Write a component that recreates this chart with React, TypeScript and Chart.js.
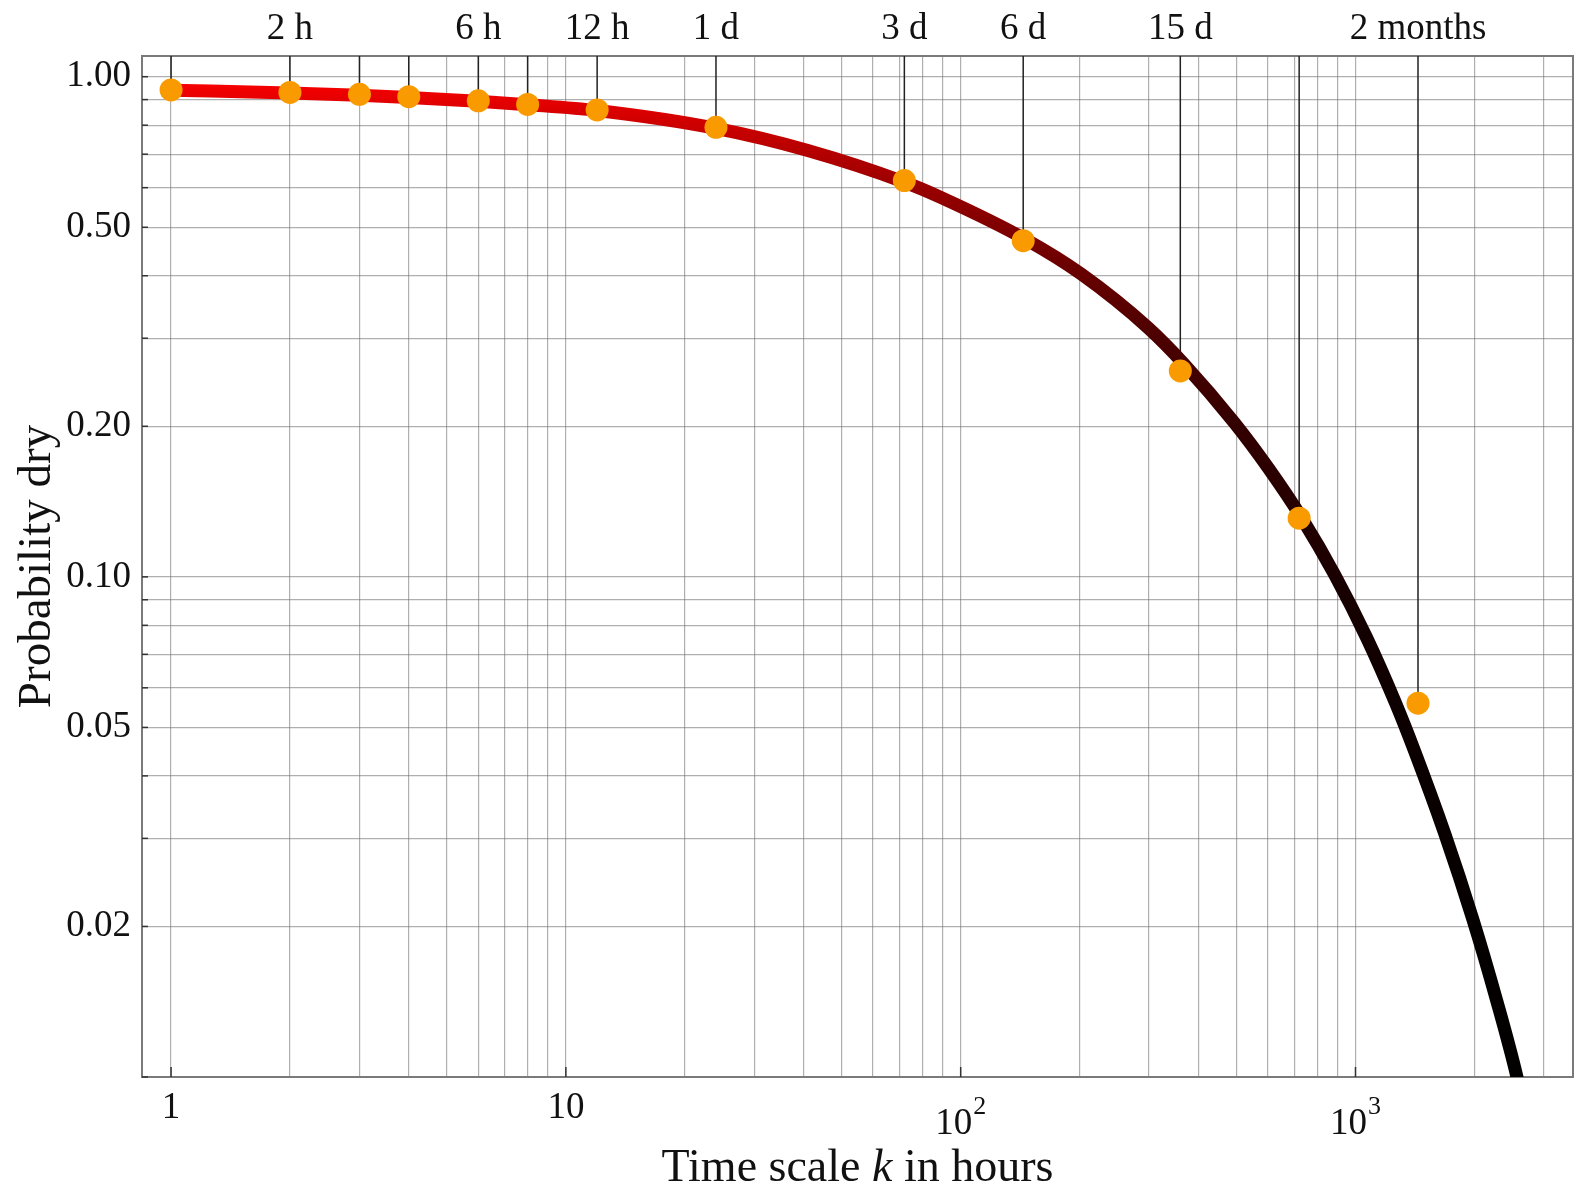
import React, { useEffect, useRef } from 'react';
import { Chart, registerables } from 'chart.js';

Chart.register(...registerables);

// ---- data ----
const curveK = [1, 2, 3, 4, 6, 8, 12, 24, 41, 72, 89, 146, 202, 298, 369, 494, 602, 730, 885, 1067, 1264, 1412, 1683, 1982, 2279, 2563, 2640];
const curveP = [0.9393, 0.9282, 0.918, 0.9088, 0.893, 0.8791, 0.8556, 0.788, 0.7118, 0.6154, 0.5737, 0.4729, 0.4031, 0.315, 0.2657, 0.203, 0.1648, 0.1313, 0.1011, 0.0756, 0.05588, 0.04481, 0.03066, 0.02069, 0.01421, 0.01002, 0.00898];

const pointsK = [1, 2, 3, 4, 6, 8, 12, 24, 72, 144, 360, 720, 1440];
const pointsP = [0.941, 0.930, 0.922, 0.912, 0.895, 0.880, 0.858, 0.792, 0.620, 0.470, 0.258, 0.131, 0.0559];

const topTickK = [2, 6, 12, 24, 72, 144, 360, 1440];
const topTickLabels = ['2 h', '6 h', '12 h', '1 d', '3 d', '6 d', '15 d', '2 months'];

const xTickK = [1, 10, 100, 1000];
const xTickLabels = ['1', '10', '10', '10'];
const xTickExponents = ['', '', '2', '3'];

const yTickP = [1, 0.5, 0.2, 0.1, 0.05, 0.02];
const yTickLabels = ['1.00', '0.50', '0.20', '0.10', '0.05', '0.02'];

const xGridK = [1, 2, 3, 4, 5, 6, 7, 8, 9, 10, 20, 30, 40, 50, 60, 70, 80, 90, 100, 200, 300, 400, 500, 600, 700, 800, 900, 1000, 2000, 3000];
const yGridP = [0.01, 0.02, 0.03, 0.04, 0.05, 0.06, 0.07, 0.08, 0.09, 0.1, 0.2, 0.3, 0.4, 0.5, 0.6, 0.7, 0.8, 0.9, 1.0];

const X_MIN = 0.844;
const X_MAX = 3556;
const Y_MIN = 0.01;
const Y_MAX = 1.1;

const xTitleParts = ['Time scale ', 'k', ' in hours'];
const yTitle = 'Probability dry';

const FONT = '"Liberation Serif", "Times New Roman", serif';
const FRAME = '#7a7a7a';
const GRID = 'rgba(110,110,110,0.55)';

function findIndex(values: number[], v: number): number {
  for (let i = 0; i < values.length; i++) {
    if (Math.abs(values[i] - v) / values[i] < 1e-6) return i;
  }
  return -1;
}

const decorPlugin = {
  id: 'decor',
  afterDraw(chart: any) {
    const { ctx, chartArea: a, scales } = chart;
    ctx.save();
    ctx.strokeStyle = '#333';
    ctx.lineWidth = 1.5;
    yGridP.forEach((v) => {
      const py = scales.y.getPixelForValue(v);
      if (py < a.top - 0.5 || py > a.bottom + 0.5) return;
      ctx.beginPath();
      ctx.moveTo(a.left, py);
      ctx.lineTo(a.left + 6, py);
      ctx.stroke();
    });
    xTickK.forEach((v) => {
      const px = scales.x.getPixelForValue(v);
      ctx.beginPath();
      ctx.moveTo(px, a.bottom);
      ctx.lineTo(px, a.bottom - 10);
      ctx.stroke();
    });
    // power-of-ten tick labels with real superscripts
    ctx.fillStyle = '#111';
    ctx.textBaseline = 'alphabetic';
    ctx.textAlign = 'left';
    xTickK.forEach((v, i) => {
      if (!xTickExponents[i]) return;
      const px = scales.x.getPixelForValue(v);
      ctx.font = `37px ${FONT}`;
      const wb = ctx.measureText(xTickLabels[i]).width;
      ctx.font = `26px ${FONT}`;
      const we = ctx.measureText(xTickExponents[i]).width;
      const x0 = px - (wb + we + 1) / 2;
      ctx.font = `37px ${FONT}`;
      ctx.fillText(xTickLabels[i], x0, 1134);
      ctx.font = `26px ${FONT}`;
      ctx.fillText(xTickExponents[i], x0 + wb + 1, 1114);
    });
    // x-axis title with italic k
    const fonts = [`46px ${FONT}`, `italic 46px ${FONT}`, `46px ${FONT}`];
    let total = 0;
    const widths = xTitleParts.map((t, i) => {
      ctx.font = fonts[i];
      const w = ctx.measureText(t).width;
      total += w;
      return w;
    });
    let x = (a.left + a.right) / 2 - total / 2;
    ctx.fillStyle = '#111';
    xTitleParts.forEach((t, i) => {
      ctx.font = fonts[i];
      ctx.fillText(t, x, 1181);
      x += widths[i];
    });
    ctx.restore();
  },
};

export default function App() {
  const ref = useRef<HTMLCanvasElement | null>(null);

  useEffect(() => {
    if (!ref.current) return;

    const curveData = curveK.map((k, i) => ({ x: k, y: curveP[i] }));
    const dotData = pointsK.map((k, i) => ({ x: k, y: pointsP[i] }));
    const stemData: any[] = [];
    pointsK.forEach((k, i) => {
      stemData.push({ x: k, y: Y_MAX });
      stemData.push({ x: k, y: pointsP[i] });
      stemData.push({ x: k, y: null });
    });

    const gradient = (c: any) => {
      const chart = c.chart;
      const area = chart.chartArea;
      if (!area || !chart.scales.y) return '#c00000';
      const ys = chart.scales.y;
      const g = chart.ctx.createLinearGradient(0, area.top, 0, area.bottom);
      const stops = [Y_MAX, ...yGridP.slice().reverse()];
      stops.forEach((v) => {
        let t = (ys.getPixelForValue(v) - area.top) / (area.bottom - area.top);
        t = Math.max(0, Math.min(1, t));
        const r = Math.round(255 * Math.min(1, v));
        g.addColorStop(t, `rgb(${r},0,0)`);
      });
      return g;
    };

    const zeroPad = (s: any) => {
      s.paddingLeft = 0;
      s.paddingRight = 0;
      s.paddingTop = 0;
      s.paddingBottom = 0;
    };

    const chart = new Chart(ref.current, {
      type: 'line',
      data: {
        datasets: [
          {
            label: 'stems',
            data: stemData,
            borderColor: '#222',
            borderWidth: 1.5,
            pointRadius: 0,
            spanGaps: false,
            order: 2,
          },
          {
            label: 'curve',
            data: curveData,
            borderColor: gradient,
            borderWidth: 13,
            pointRadius: 0,
            cubicInterpolationMode: 'monotone',
            borderCapStyle: 'butt',
            borderJoinStyle: 'round',
            clip: 0,
            order: 1,
          },
          {
            label: 'points',
            data: dotData,
            showLine: false,
            pointRadius: 11.5,
            pointHoverRadius: 11.5,
            pointBackgroundColor: '#f99b00',
            pointBorderWidth: 0,
            pointBorderColor: '#f99b00',
            clip: false,
            order: 0,
          },
        ] as any,
      },
      plugins: [decorPlugin],
      options: {
        animation: false,
        responsive: true,
        maintainAspectRatio: false,
        devicePixelRatio: 1,
        layout: { padding: 0, autoPadding: false },
        plugins: {
          legend: { display: false },
          tooltip: { enabled: false },
        },
        events: [],
        scales: {
          x: {
            type: 'logarithmic',
            position: 'bottom',
            min: X_MIN,
            max: X_MAX,
            afterBuildTicks: (s: any) => {
              s.ticks = xGridK.map((v) => ({ value: v }));
            },
            afterFit: (s: any) => {
              s.height = 110;
              zeroPad(s);
            },
            grid: { color: GRID, lineWidth: 1.2, drawTicks: false },
            border: { display: true, color: FRAME, width: 2 },
            ticks: {
              autoSkip: false,
              maxRotation: 0,
              minRotation: 0,
              padding: 9,
              color: '#111',
              font: { family: FONT, size: 37 },
              callback: (v: any) => {
                const i = findIndex(xTickK, Number(v));
                return i >= 0 && !xTickExponents[i] ? xTickLabels[i] : '';
              },
            },
          },
          xTop: {
            type: 'logarithmic',
            position: 'top',
            min: X_MIN,
            max: X_MAX,
            afterBuildTicks: (s: any) => {
              s.ticks = topTickK.map((v) => ({ value: v }));
            },
            afterFit: (s: any) => {
              s.height = 56;
              zeroPad(s);
            },
            grid: { display: false, drawTicks: false },
            border: { display: true, color: FRAME, width: 2 },
            ticks: {
              autoSkip: false,
              maxRotation: 0,
              minRotation: 0,
              padding: 5,
              color: '#111',
              font: { family: FONT, size: 37 },
              callback: (v: any) => {
                const i = findIndex(topTickK, Number(v));
                return i >= 0 ? topTickLabels[i] : '';
              },
            },
          },
          y: {
            type: 'logarithmic',
            position: 'left',
            min: Y_MIN,
            max: Y_MAX,
            afterBuildTicks: (s: any) => {
              s.ticks = yGridP.map((v) => ({ value: v }));
            },
            afterFit: (s: any) => {
              s.width = 142;
              zeroPad(s);
            },
            grid: { color: GRID, lineWidth: 1.2, drawTicks: false },
            border: { display: true, color: FRAME, width: 2 },
            title: {
              display: true,
              text: yTitle,
              color: '#111',
              font: { family: FONT, size: 47 },
              padding: { top: 9, bottom: 0 },
            },
            ticks: {
              autoSkip: false,
              padding: 11,
              color: '#111',
              font: { family: FONT, size: 37 },
              callback: (v: any) => {
                const i = findIndex(yTickP, Number(v));
                return i >= 0 ? yTickLabels[i] : '';
              },
            },
          },
          yRight: {
            type: 'linear',
            position: 'right',
            min: 0,
            max: 1,
            afterFit: (s: any) => {
              s.width = 4;
              zeroPad(s);
            },
            grid: { display: false, drawTicks: false },
            border: { display: true, color: FRAME, width: 2 },
            ticks: { display: false },
          },
        } as any,
      },
    });

    return () => chart.destroy();
  }, []);

  return (
    <div style={{ position: 'absolute', left: 0, top: 0, width: 1577, height: 1187, background: '#fff' }}>
      <canvas ref={ref} style={{ display: 'block' }} />
    </div>
  );
}
